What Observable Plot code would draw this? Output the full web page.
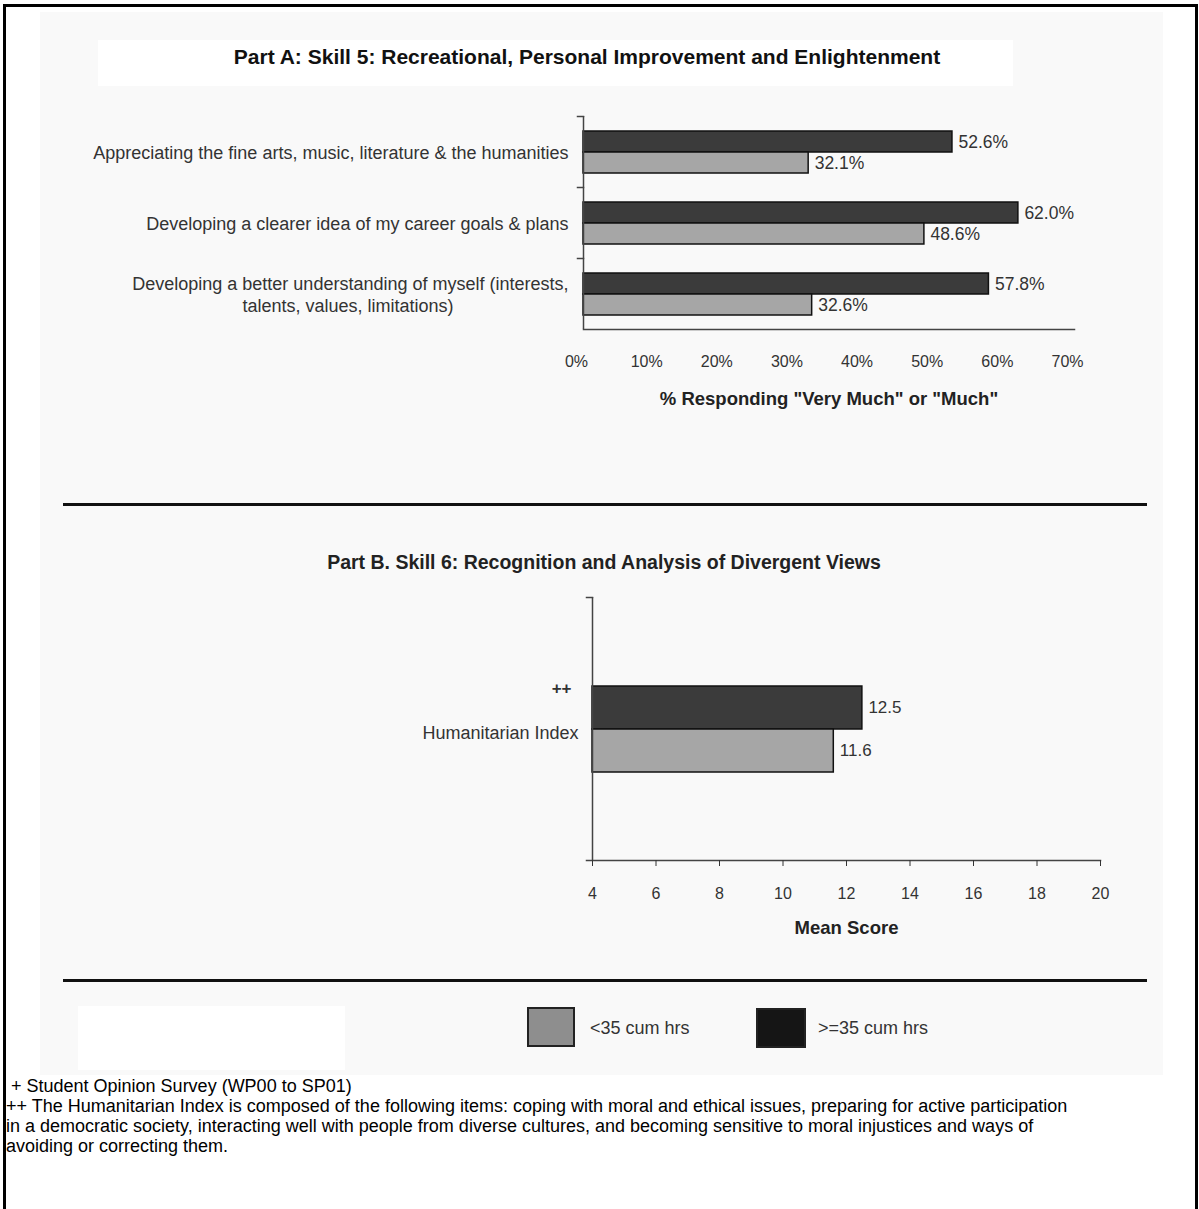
<!DOCTYPE html>
<html>
<head>
<meta charset="utf-8">
<script src="https://cdn.jsdelivr.net/npm/d3@7"></script>
<script src="https://cdn.jsdelivr.net/npm/@observablehq/plot@0.6"></script>
<style>
  html, body { margin: 0; padding: 0; background: #fff; }
  body { width: 1199px; height: 1209px; position: relative; overflow: hidden; font-family: "Liberation Sans", Arial, sans-serif; color: #222; }
  .abs { position: absolute; }
  .frame { left: 3px; top: 4px; width: 1189px; height: 1220px; border-top: 3px solid #000; border-left: 3px solid #000; border-right: 3px solid #000; }
  .scan { left: 40px; top: 12px; width: 1123px; height: 1063px; background: #f9f9f9; }
  .sep { left: 63px; width: 1084px; height: 3px; background: #111; }
  .title { font-weight: bold; white-space: nowrap; transform: translateX(-50%); color: #111; }
  .legbox { border: 2px solid #222; box-sizing: border-box; }
  .legtxt { font-size: 18px; color: #333; white-space: nowrap; transform: translateY(-50%); }
  .notes { left: 6px; top: 1076px; font-size: 18px; line-height: 20px; color: #000; white-space: nowrap; }
</style>
</head>
<body>
<div class="abs frame"></div>
<div class="abs scan"></div>
<div class="abs" style="left:98px;top:40px;width:915px;height:46px;background:#fff"></div>
<div class="abs" style="left:78px;top:1006px;width:267px;height:64px;background:#fff"></div>
<div id="titleA" class="abs title" style="left:587px;top:45px;font-size:21px"></div>
<div id="chartA" class="abs" style="left:0;top:100px"></div>
<div class="abs sep" style="top:503px"></div>
<div id="titleB" class="abs title" style="left:604px;top:551px;font-size:19.5px;color:#222"></div>
<div id="chartB" class="abs" style="left:0;top:580px"></div>
<div class="abs sep" style="top:979px"></div>
<div id="legend"></div>
<div id="notes" class="abs notes"></div>
<script>
// ---------- data ----------
const titleA = "Part A: Skill 5: Recreational, Personal Improvement and Enlightenment";
const titleB = "Part B. Skill 6: Recognition and Analysis of Divergent Views";
const groups = [">=35 cum hrs", "<35 cum hrs"];
const legendOrder = ["<35 cum hrs", ">=35 cum hrs"];
const skillItems = [
  "Appreciating the fine arts, music, literature & the humanities",
  "Developing a clearer idea of my career goals & plans",
  "Developing a better understanding of myself (interests,\ntalents, values, limitations)"
];
const pctHigh = [52.6, 62.0, 57.8];   // >=35 cum hrs
const pctLow  = [32.1, 48.6, 32.6];   // <35 cum hrs
const xTicksA = [0, 10, 20, 30, 40, 50, 60, 70];
const xLabelA = "% Responding \"Very Much\" or \"Much\"";

const indexItems = ["Humanitarian Index"];
const indexMark = "++";
const meanHigh = [12.5];
const meanLow = [11.6];
const xTicksB = [4, 6, 8, 10, 12, 14, 16, 18, 20];
const xLabelB = "Mean Score";

const notes = [
  "\u00a0+ Student Opinion Survey (WP00 to SP01)",
  "++ The Humanitarian Index is composed of the following items: coping with moral and ethical issues, preparing for active participation",
  "in a democratic society, interacting well with people from diverse cultures, and becoming sensitive to moral injustices and ways of",
  "avoiding or correcting them."
];

// ---------- styling ----------
const barFill = {">=35 cum hrs": "#3b3b3b", "<35 cum hrs": "#a6a6a6"};
const legendFill = {">=35 cum hrs": "#151515", "<35 cum hrs": "#8e8e8e"};
const textColor = "#333";
const axisColor = "#444";
const catFont = 18;

// ---------- helpers ----------
const ctx = document.createElement("canvas").getContext("2d");
const measure = (s, size) => { ctx.font = size + 'px "Liberation Sans", Arial, sans-serif'; return ctx.measureText(s).width; };
// right-aligned multi-line label whose later lines are centred under the first (Excel style)
function centreLines(label, size) {
  const lines = label.split("\n");
  if (lines.length < 2) return label;
  const w0 = measure(lines[0], size), nb = measure("\u00a0", size);
  return lines.map((l, i) => i === 0 ? l : l + "\u00a0".repeat(Math.max(0, Math.round((w0 - measure(l, size)) / 2 / nb)))).join("\n");
}
// short outward tick on the category axis at each category boundary
const boundaryTick = (plotWidth, ml, mr, extra = {}) =>
  Plot.frame({anchor: "top", insetLeft: -6, insetRight: plotWidth - ml - mr, stroke: axisColor, strokeWidth: 1.5, ...extra});

// ---------- tables ----------
const dataA = skillItems.flatMap((c, i) => [
  {category: c, group: groups[0], value: pctHigh[i]},
  {category: c, group: groups[1], value: pctLow[i]}
]);
const dataB = indexItems.flatMap((c, i) => [
  {category: c, group: groups[0], value: meanHigh[i]},
  {category: c, group: groups[1], value: meanLow[i]}
]);

document.getElementById("titleA").textContent = titleA;
document.getElementById("titleB").textContent = titleB;

const colorScale = {domain: groups, range: groups.map(g => barFill[g])};
const boldLabel = (svg, size) => svg.querySelectorAll("g[aria-label='x-axis label']").forEach(e => {
  e.setAttribute("font-weight", "bold"); e.setAttribute("font-size", size); e.setAttribute("fill", "#222");
});

const A = {width: 1199, ml: 583, mr: 125};
const chartA = Plot.plot({
  width: A.width, height: 310,
  marginLeft: A.ml, marginRight: A.mr, marginTop: 15, marginBottom: 80,
  style: {background: "transparent", fontFamily: "Liberation Sans, Arial, sans-serif", color: textColor},
  x: {domain: [0, 70], axis: null},
  y: {domain: groups, paddingInner: 0, paddingOuter: 0.63, axis: null},
  fy: {domain: skillItems, padding: 0, axis: null},
  color: colorScale,
  marks: [
    Plot.barX(dataA, {x: "value", y: "group", fy: "category", fill: "group", stroke: "#111", strokeWidth: 1.5}),
    Plot.text(dataA, {x: "value", y: "group", fy: "category", text: d => d.value.toFixed(1) + "%",
      textAnchor: "start", dx: 6, fontSize: 17.5, fill: textColor}),
    Plot.ruleX([0], {stroke: axisColor, strokeWidth: 1.5}),
    boundaryTick(A.width, A.ml, A.mr),
    Plot.frame({anchor: "bottom", facetAnchor: "bottom", stroke: axisColor, strokeWidth: 1.5}),
    Plot.axisX({ticks: xTicksA, tickFormat: d => d + "%", tickSize: 0, tickPadding: 26, fontSize: 16, dx: -7,
      label: xLabelA, labelAnchor: "center", labelArrow: "none", labelOffset: 75, facetAnchor: "bottom"}),
    Plot.axisFy({anchor: "left", tickSize: 0, tickPadding: 15, fontSize: catFont, lineHeight: 1.22, label: null,
      tickFormat: d => centreLines(d, catFont)})
  ]
});
boldLabel(chartA, 18.5);
document.getElementById("chartA").appendChild(chartA);

const B = {width: 1199, ml: 592, mr: 99};
const chartB = Plot.plot({
  width: B.width, height: 380,
  marginLeft: B.ml, marginRight: B.mr, marginTop: 17, marginBottom: 100,
  style: {background: "transparent", fontFamily: "Liberation Sans, Arial, sans-serif", color: textColor},
  x: {domain: [4, 20], axis: null},
  y: {domain: groups, paddingInner: 0, paddingOuter: 1.99, axis: null},
  fy: {domain: indexItems, padding: 0, axis: null},
  color: colorScale,
  marks: [
    Plot.barX(dataB, {x1: 4, x2: "value", y: "group", fy: "category", fill: "group", stroke: "#111", strokeWidth: 1.5}),
    Plot.text(dataB, {x: "value", y: "group", fy: "category", text: d => d.value.toFixed(1),
      textAnchor: "start", dx: 6, fontSize: 17, fill: textColor}),
    Plot.ruleX([4], {stroke: axisColor, strokeWidth: 1.5}),
    boundaryTick(B.width, B.ml, B.mr),
    Plot.frame({anchor: "bottom", insetLeft: -6, stroke: axisColor, strokeWidth: 1.5}),
    Plot.axisX({ticks: xTicksB, tickSize: 6, tickPadding: 21, fontSize: 16,
      label: xLabelB, labelAnchor: "center", labelArrow: "none", labelOffset: 73}),
    Plot.axisFy({anchor: "left", tickSize: 0, tickPadding: 14, fontSize: 18, label: null, dy: 4}),
    Plot.text([indexMark], {frameAnchor: "left", text: d => d, textAnchor: "end", dx: -21, dy: -40, fontSize: 17, fontWeight: "bold", fill: textColor})
  ]
});
boldLabel(chartB, 18.5);
document.getElementById("chartB").appendChild(chartB);

// legend
const legend = document.getElementById("legend");
const legendPos = {"<35 cum hrs": {box: [527, 1007, 48, 40], text: [590, 1028]},
                   ">=35 cum hrs": {box: [756, 1008, 50, 40], text: [818, 1028]}};
legendOrder.forEach(g => {
  const p = legendPos[g];
  const b = document.createElement("div");
  b.className = "abs legbox";
  Object.assign(b.style, {left: p.box[0] + "px", top: p.box[1] + "px", width: p.box[2] + "px", height: p.box[3] + "px", background: legendFill[g]});
  legend.appendChild(b);
  const t = document.createElement("div");
  t.className = "abs legtxt";
  Object.assign(t.style, {left: p.text[0] + "px", top: p.text[1] + "px"});
  t.textContent = g;
  legend.appendChild(t);
});

// notes
const notesEl = document.getElementById("notes");
notes.forEach(line => { const d = document.createElement("div"); d.textContent = line; notesEl.appendChild(d); });
</script>
</body>
</html>
